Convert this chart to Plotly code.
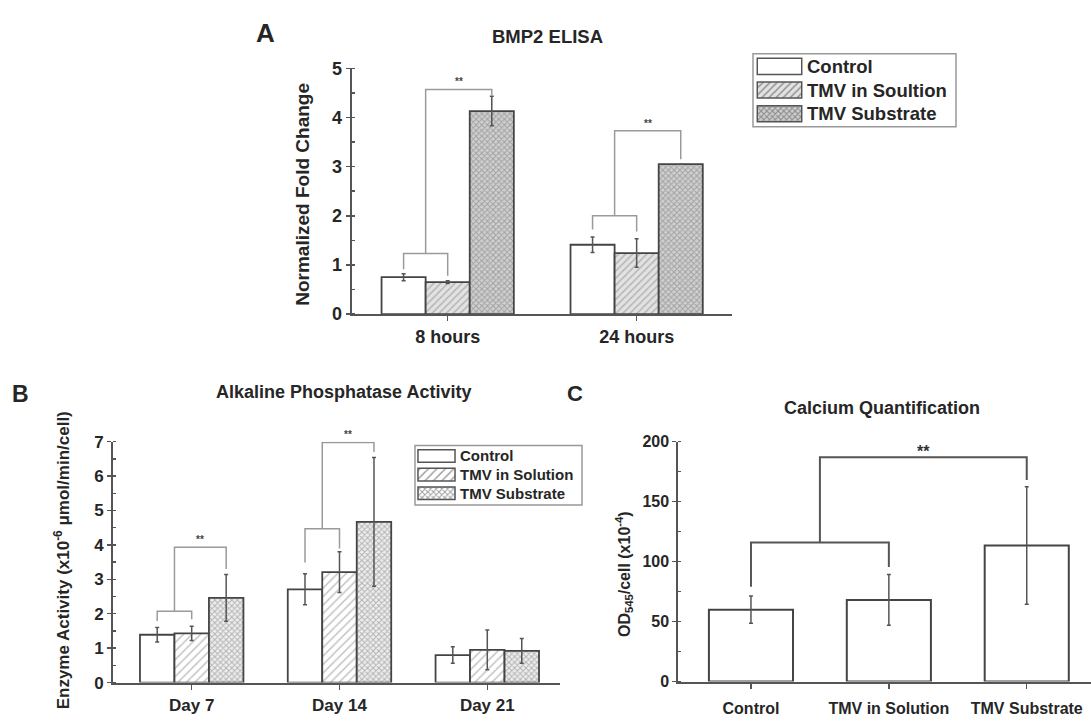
import plotly.graph_objects as go

# ---------------- DATA ----------------
# Panel A : BMP2 ELISA
a_groups = ["8 hours", "24 hours"]
a_series = ["Control", "TMV in Soultion", "TMV Substrate"]
a_control = [0.75, 1.41]
a_control_err = [0.07, 0.16]
a_solution = [0.65, 1.24]
a_solution_err = [0.03, 0.29]
a_substrate = [4.13, 3.05]
a_substrate_err = [0.30, 0.0]
# significance brackets (y values)
a_small_h = [1.23, 2.00]
a_small_left_end = [0.91, 1.72]
a_small_right_end = [0.78, 1.68]
a_big_h = [4.57, 3.73]
a_big_right_end = [4.45, 3.15]

# Panel B : Alkaline Phosphatase Activity
b_groups = ["Day 7", "Day 14", "Day 21"]
b_series = ["Control", "TMV in Solution", "TMV Substrate"]
b_control = [1.39, 2.71, 0.80]
b_control_err = [0.21, 0.45, 0.24]
b_solution = [1.43, 3.21, 0.95]
b_solution_err = [0.21, 0.59, 0.58]
b_substrate = [2.46, 4.67, 0.92]
b_substrate_err = [0.68, 1.87, 0.36]
b_small_h = [2.07, 4.47]
b_small_left_end = [1.79, 3.49]
b_small_right_end = [1.84, 3.90]
b_big_h = [3.93, 6.98]
b_big_right_end = [3.30, 6.70]

# Panel C : Calcium Quantification
c_categories = ["Control", "TMV in Solution", "TMV Substrate"]
c_values = [60.0, 68.1, 113.5]
c_err = [11.3, 21.2, 49.0]
c_small_h = 116
c_small_left_end = 79
c_small_right_end = 95.6
c_big_h = 187
c_big_right_end = 168

# ---------------- STYLE ----------------
FONT = "Liberation Sans, Arial, sans-serif"
TXT = "#262626"
AX = "#555555"
BAR_LINE = "#444444"
BRK = "#9a9a9a"
W, H = 1091, 723
BARGAP = 0.3


def px(x):
    return x / W


def py(y):
    return 1 - y / H


a_styles = [
    dict(color="white"),
    dict(color="#e2e2e2", pattern=dict(shape="/", fgcolor="#888888", bgcolor="#e2e2e2", size=5, solidity=0.3)),
    dict(color="#cdcdcd", pattern=dict(shape="x", fgcolor="#737373", bgcolor="#d0d0d0", size=4, solidity=0.45)),
]
b_styles = [
    dict(color="white"),
    dict(color="white", pattern=dict(shape="/", fgcolor="#888888", bgcolor="white", size=6, solidity=0.25)),
    dict(color="white", pattern=dict(shape="x", fgcolor="#7a7a7a", bgcolor="#eeeeee", size=4, solidity=0.45)),
]

fig = go.Figure()


def add_group_bars(xa, ya, ngroups, series_vals, series_errs, styles):
    xs = list(range(ngroups))
    for vals, errs, st in zip(series_vals, series_errs, styles):
        marker = dict(st)
        marker["line"] = dict(color=BAR_LINE, width=1.8)
        fig.add_trace(go.Bar(
            x=xs, y=vals, xaxis=xa, yaxis=ya, marker=marker,
            error_y=dict(type="data", array=errs, color=AX, thickness=1.5, width=2),
            showlegend=False, hoverinfo="skip",
        ))


def add_brackets(xa, ya, small_h, l_end, r_end, big_h, big_end, color, width):
    w = (1 - BARGAP) / 3
    xs, ys, stars = [], [], []
    for c, (h1, le, re_, h2, be) in enumerate(zip(small_h, l_end, r_end, big_h, big_end)):
        xs += [c - w, c - w, c, c, None, c - w / 2, c - w / 2, c + w, c + w, None]
        ys += [le, h1, h1, re_, None, h1, h2, h2, be, None]
        stars.append((c + w / 4, h2))
    fig.add_trace(go.Scatter(x=xs, y=ys, mode="lines", xaxis=xa, yaxis=ya,
                             line=dict(color=color, width=width), showlegend=False,
                             hoverinfo="skip"))
    return stars


# Panel A
add_group_bars("x", "y", len(a_groups), [a_control, a_solution, a_substrate],
               [a_control_err, a_solution_err, a_substrate_err], a_styles)
a_stars = add_brackets("x", "y", a_small_h, a_small_left_end, a_small_right_end,
                       a_big_h, a_big_right_end, BRK, 1.5)

# Panel B
add_group_bars("x2", "y2", len(b_groups), [b_control, b_solution, b_substrate],
               [b_control_err, b_solution_err, b_substrate_err], b_styles)
b_stars = add_brackets("x2", "y2", b_small_h, b_small_left_end, b_small_right_end,
                       b_big_h, b_big_right_end, BRK, 1.5)

# Panel C
fig.add_trace(go.Bar(
    x=list(range(len(c_categories))), y=c_values, xaxis="x3", yaxis="y3", width=0.61,
    marker=dict(color="white", line=dict(color=BAR_LINE, width=2)),
    error_y=dict(type="data", array=c_err, color=AX, thickness=1.5, width=2),
    showlegend=False, hoverinfo="skip",
))
c_mid = 0.5
fig.add_trace(go.Scatter(
    x=[0, 0, 1, 1, None, c_mid, c_mid, 2, 2],
    y=[c_small_left_end, c_small_h, c_small_h, c_small_right_end, None,
       c_small_h, c_big_h, c_big_h, c_big_right_end],
    mode="lines", xaxis="x3", yaxis="y3", line=dict(color=AX, width=2),
    showlegend=False, hoverinfo="skip"))


# Legend swatches (as small horizontal bars on helper axes)
def legend_bars(xa, ya, names, styles):
    n = len(names)
    colors = [s["color"] for s in styles]
    shapes = [s.get("pattern", {}).get("shape", "") for s in styles]
    fgs = [s.get("pattern", {}).get("fgcolor", "#888") for s in styles]
    bgs = [s.get("pattern", {}).get("bgcolor", s["color"]) for s in styles]
    sizes = [s.get("pattern", {}).get("size", 6) for s in styles]
    sols = [s.get("pattern", {}).get("solidity", 0.3) for s in styles]
    fig.add_trace(go.Bar(
        y=list(range(n)), x=[1] * n, orientation="h", xaxis=xa, yaxis=ya, width=0.68,
        marker=dict(color=colors, line=dict(color="#555555", width=1.5),
                    pattern=dict(shape=shapes, fgcolor=fgs, bgcolor=bgs, size=sizes, solidity=sols)),
        showlegend=False, hoverinfo="skip"))


legend_bars("x4", "y4", a_series, a_styles)
legend_bars("x5", "y5", b_series, b_styles)


def tick_font(s):
    return dict(family=FONT, size=s, color=TXT, weight="bold")


def xax(domain, rng, labels, size, standoff=2, anchor="y"):
    return dict(domain=domain, range=rng, tickmode="array", tickvals=list(range(len(labels))),
                ticktext=labels, showline=True, linecolor=AX, linewidth=2, ticks="outside",
                ticklen=5, tickwidth=1.5, tickcolor=AX, showgrid=False, zeroline=False,
                tickfont=tick_font(size), anchor=anchor, ticklabelstandoff=standoff, fixedrange=True)


def yax(domain, rng, dtick, minor, size, anchor):
    return dict(domain=domain, range=rng, dtick=dtick, showline=True, linecolor=AX, linewidth=2,
                ticks="outside", ticklen=4, tickwidth=1.5, tickcolor=AX, showgrid=False,
                zeroline=False, tickfont=tick_font(size), anchor=anchor,
                minor=dict(ticks="inside", ticklen=3, tickcolor=AX, dtick=minor, showgrid=False),
                fixedrange=True)


# legend geometry (pixels)
la_x = (757, 802)
la_y = (45.8, 118.9)
lb_x = (418, 455)
lb_y = (449.1, 506.6)

fig.update_layout(
    width=W, height=H, margin=dict(l=0, r=0, t=0, b=0),
    paper_bgcolor="white", plot_bgcolor="white", showlegend=False,
    barmode="group", bargap=BARGAP, bargroupgap=0,
    font=dict(family=FONT, color=TXT),
    xaxis=xax([px(351.7), px(731.7)], [-0.508, 1.503], a_groups, 18, 0, "y"),
    yaxis=yax([py(312.7), py(60)], [0, 5], 1, 0.5, 18, "x"),
    xaxis2=xax([px(113), px(560)], [-0.5325, 2.492], b_groups, 17, 1, "y2"),
    yaxis2=yax([py(691.7), py(444)], [0, 7], 1, 0.5, 17, "x2"),
    xaxis3=xax([px(678.3), 1.0], [-0.527, 2.466], c_categories, 16, 6, "y3"),
    yaxis3=yax([py(690.7), py(444)], [0, 200], 50, 25, 16, "x3"),
    xaxis4=dict(domain=[px(la_x[0] - 1.5), px(la_x[1] + 1.5)], range=[-0.04, 1.04], visible=False,
                anchor="y4", fixedrange=True),
    yaxis4=dict(domain=[py(la_y[1]), py(la_y[0])], range=[2.5, -0.5], visible=False,
                anchor="x4", fixedrange=True),
    xaxis5=dict(domain=[px(lb_x[0] - 1.5), px(lb_x[1] + 1.5)], range=[-0.04, 1.04], visible=False,
                anchor="y5", fixedrange=True),
    yaxis5=dict(domain=[py(lb_y[1]), py(lb_y[0])], range=[2.5, -0.5], visible=False,
                anchor="x5", fixedrange=True),
)

ann = []


def text(x, y, t, size, **kw):
    d = dict(x=px(x), y=py(y), xref="paper", yref="paper", text=t, showarrow=False,
             font=dict(family=FONT, size=size, color=kw.pop("color", TXT),
                       weight=kw.pop("weight", "bold")),
             xanchor=kw.pop("xanchor", "center"), yanchor=kw.pop("yanchor", "middle"))
    d.update(kw)
    ann.append(d)


# panel letters & titles
text(265.5, 24, "A", 26)
text(20.5, 395, "B", 23)
text(574.5, 394, "C", 22)
text(547.5, 27, "BMP2 ELISA", 18.5)
text(343, 393, "Alkaline Phosphatase Activity", 18)
text(882, 409, "Calcium Quantification", 18)

# y-axis titles
text(303, 190, "Normalized Fold Change", 19, textangle=-90)
text(62, 566, "Enzyme Activity (x10<sup>-6</sup> μmol/min/cell)", 17, textangle=-90)
text(624, 580, "OD<sub>545</sub>/cell (x10<sup>-4</sup>)", 16, textangle=-90)

# significance stars
for sx, sy in a_stars:
    ann.append(dict(x=sx, y=sy, xref="x", yref="y", text="**", showarrow=False,
                    font=dict(family=FONT, size=10, color="#444444", weight="bold"),
                    yanchor="bottom", yshift=0))
for sx, sy in b_stars:
    ann.append(dict(x=sx, y=sy, xref="x2", yref="y2", text="**", showarrow=False,
                    font=dict(family=FONT, size=10, color="#444444", weight="bold"),
                    yanchor="bottom", yshift=0))
ann.append(dict(x=(c_mid + 2) / 2, y=c_big_h, xref="x3", yref="y3", text="**", showarrow=False,
                font=dict(family=FONT, size=16, color="#333333", weight="bold"),
                yanchor="bottom", yshift=-5))

# legend texts
for i, name in enumerate(a_series):
    yc = la_y[0] + (i + 0.5) * (la_y[1] - la_y[0]) / 3
    text(805, yc, name, 18.5, xanchor="left")
for i, name in enumerate(b_series):
    yc = lb_y[0] + (i + 0.5) * (lb_y[1] - lb_y[0]) / 3
    text(457.5, yc, name, 15, xanchor="left")

fig.update_layout(annotations=ann)

# legend boxes
fig.add_shape(type="rect", xref="paper", yref="paper", x0=px(753), x1=px(956), y0=py(120), y1=py(45),
              line=dict(color="#999999", width=1.5))
fig.add_shape(type="rect", xref="paper", yref="paper", x0=px(415), x1=px(582), y0=py(509), y1=py(448),
              line=dict(color="#999999", width=1.5))

fig.write_html("out.html", config={"displayModeBar": False, "staticPlot": True},
               post_script="document.body.style.margin='0px';")
